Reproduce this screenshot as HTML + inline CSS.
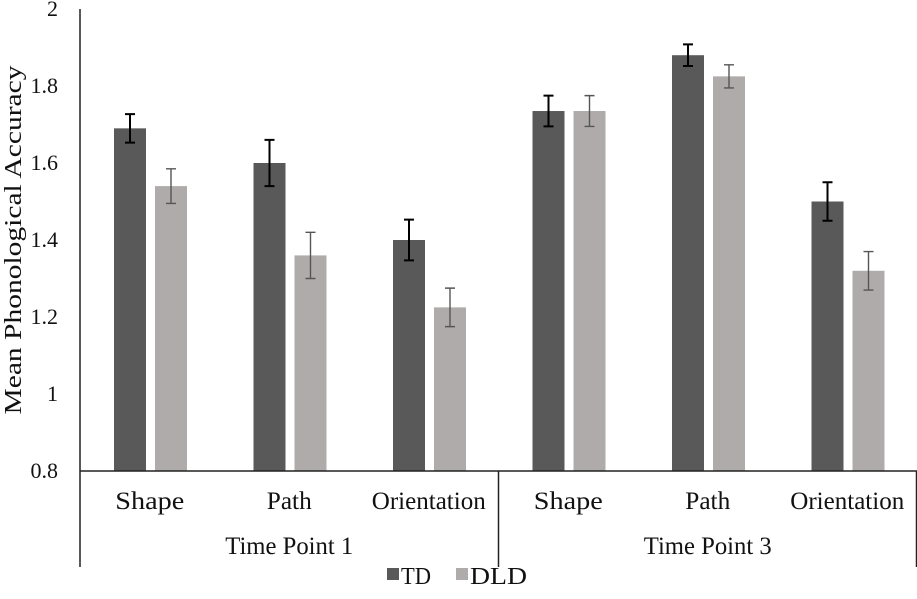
<!DOCTYPE html>
<html><head><meta charset="utf-8"><style>
body{margin:0;background:#fff}
svg text{font-family:"Liberation Serif",serif;fill:#111}
</style></head><body>
<svg width="917" height="594" id="c">
<text transform="translate(21,240) rotate(-90)" text-anchor="middle" font-size="24" textLength="349" lengthAdjust="spacingAndGlyphs">Mean Phonological Accuracy</text>
<g id="g"></g>
<g>
<rect x="387" y="568" width="12" height="12" fill="#595959"/>
<text x="401" y="584" font-size="24" textLength="30" lengthAdjust="spacingAndGlyphs">TD</text>
<rect x="456" y="568" width="12" height="12" fill="#afabab"/>
<text x="470" y="584" font-size="24" textLength="57" lengthAdjust="spacingAndGlyphs">DLD</text>
</g>
</svg>
<script>
const categories=["Shape","Path","Orientation","Shape","Path","Orientation"];
const groups=["Time Point 1","Time Point 3"];
const tdValues=[1.69,1.60,1.40,1.735,1.88,1.50];
const dldValues=[1.54,1.36,1.225,1.735,1.825,1.32];
const tdErr=[0.037,0.06,0.053,0.04,0.028,0.05];
const dldErr=[0.045,0.06,0.05,0.04,0.03,0.05];
const yTicks=[0.8,1,1.2,1.4,1.6,1.8,2];
const yTickLabels=["0.8","1","1.2","1.4","1.6","1.8","2"];
const NS="http://www.w3.org/2000/svg";
const g=document.getElementById('g');
const X0=80,X1=917,Y0=471,Y1=9,vmin=0.8,vmax=2;
const y=v=>Y0-(v-vmin)/(vmax-vmin)*(Y0-Y1);
const gw=(X1-X0)/categories.length;
function mk(t,a){const e=document.createElementNS(NS,t);for(const k in a)e.setAttribute(k,a[k]);g.appendChild(e);return e;}
yTicks.forEach((t,i)=>{const e=mk('text',{x:58,y:y(t)+7,'text-anchor':'end','font-size':22});e.textContent=yTickLabels[i];

});
function bar(i,v,er,dx,col,ecol,sw,name){
 const x=X0+i*gw+dx,w=32;
 const r=mk('rect',{x:x,y:y(v),width:w,height:Y0-y(v),fill:col});
 
 
 const cx=x+w/2,a=y(v+er),b=y(v-er);
 const p=mk('path',{d:`M${cx},${a}V${b}M${cx-5},${a}H${cx+5}M${cx-5},${b}H${cx+5}`,stroke:ecol,'stroke-width':sw,fill:'none'});
 
 
}
const catLen={"Shape":69,"Path":45,"Orientation":114};
categories.forEach((c,i)=>{
 bar(i,tdValues[i],tdErr[i],34,'#595959','#000',2,'td');
 bar(i,dldValues[i],dldErr[i],75,'#afabab','#555',1.4,'dld');
 const t=mk('text',{x:X0+i*gw+gw/2,y:509,'text-anchor':'middle','font-size':25,textLength:catLen[c],lengthAdjust:'spacingAndGlyphs'});t.textContent=c;
 
 
});
groups.forEach((s,j)=>{const t=mk('text',{x:X0+(j*3+1.5)*gw,y:554,'text-anchor':'middle','font-size':25,textLength:128,lengthAdjust:'spacingAndGlyphs'});t.textContent=s;
 
 });
const ax=mk('path',{d:`M${X0},${Y1}V${Y0}H${X1}M${X0},${Y0}V567M${X0+3*gw},${Y0}V567M${X1-0.5},${Y0}V567`,stroke:'#222','stroke-width':1.5,fill:'none'});


</script>
</body></html>
